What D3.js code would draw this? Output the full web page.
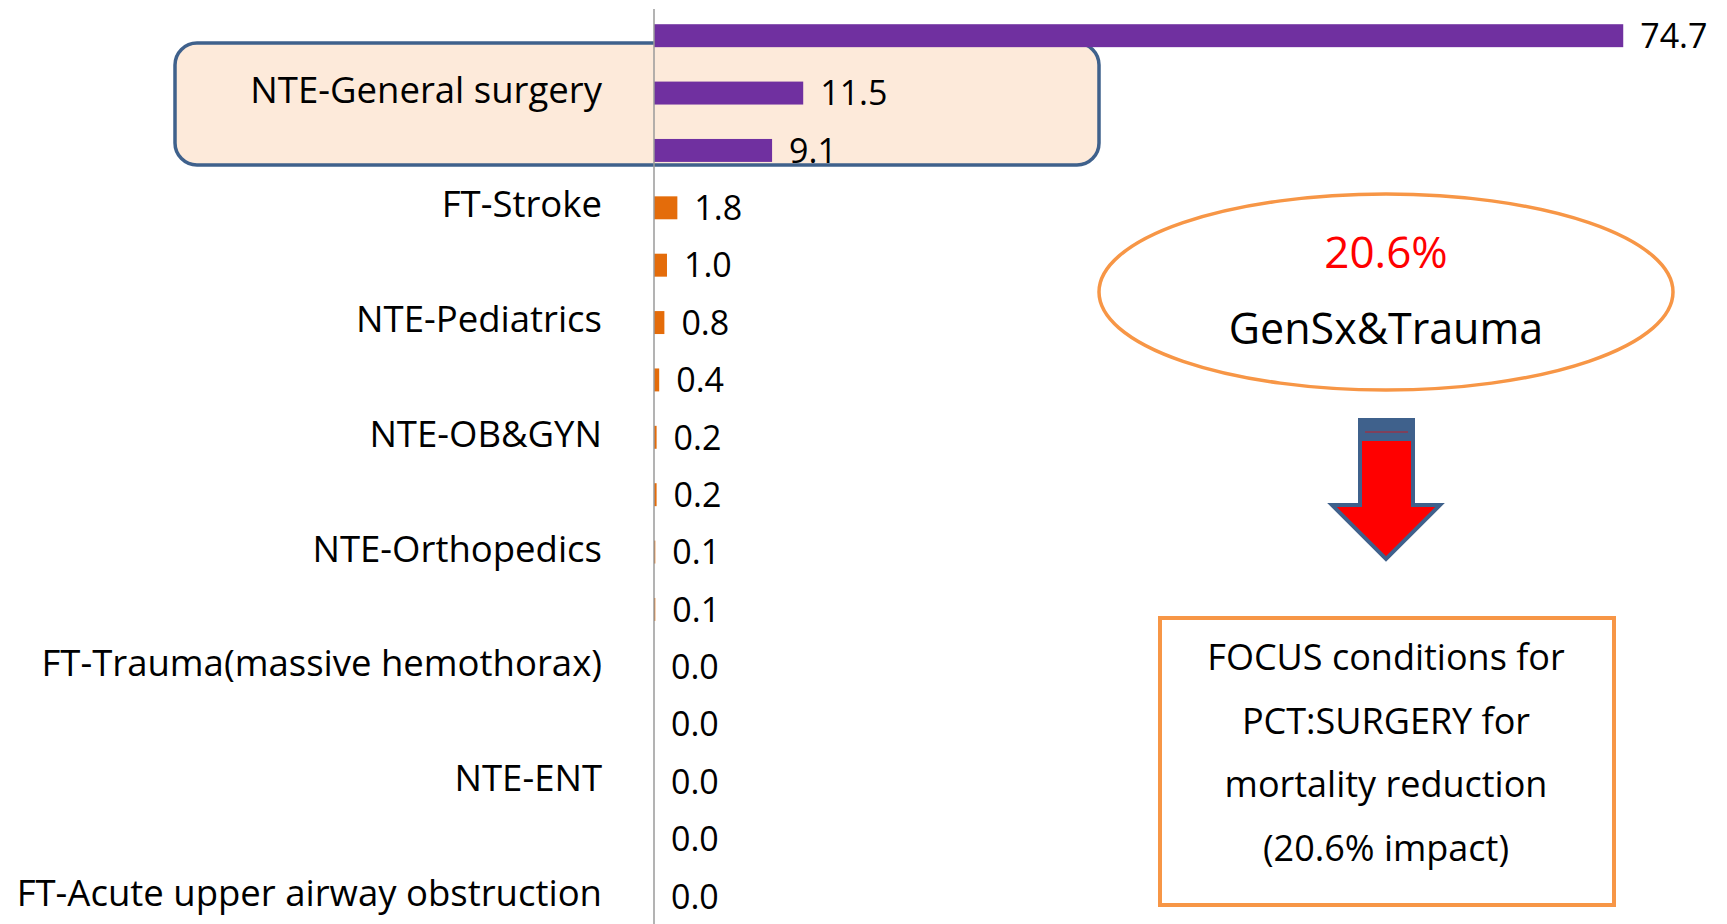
<!DOCTYPE html>
<html>
<head>
<meta charset="utf-8">
<script src="https://cdn.jsdelivr.net/npm/d3@7"></script>
<style>
  html, body { margin: 0; padding: 0; background: #fff; }
  svg { display: block; }
</style>
</head>
<body>
<svg id="chart" width="1727" height="924"></svg>
<script>
// Mortality impact by condition (%), sorted descending
const rowIds = ["r01","r02","r03","r04","r05","r06","r07","r08","r09","r10","r11","r12","r13","r14","r15","r16"];
const tickLabels = ["", "NTE-General surgery", "", "FT-Stroke", "", "NTE-Pediatrics", "", "NTE-OB&GYN", "",
                    "NTE-Orthopedics", "", "FT-Trauma(massive hemothorax)", "", "NTE-ENT", "", "FT-Acute upper airway obstruction"];
const values = [74.7, 11.5, 9.1, 1.8, 1.0, 0.8, 0.4, 0.2, 0.2, 0.1, 0.1, 0.0, 0.0, 0.0, 0.0, 0.0];
const barGroup = ["focus","focus","focus","other","other","other","other","other","other","other","other","other","other","other","other","other"];
const groupColors = { focus: "#7030A0", other: "#E46C0A" };
const focusShare = "20.6%";
const focusName = "GenSx&Trauma";
const noteLines = ["FOCUS conditions for", "PCT:SURGERY for", "mortality reduction", "(20.6% impact)"];

const svg = d3.select("#chart");
const labelFont = "'Open Sans', sans-serif";

const y = d3.scaleBand().domain(rowIds).range([7, 925]).paddingInner(0.6).paddingOuter(0.3);
const x = d3.scaleLinear().domain([0, 80]).range([654, 1692]);

// highlight box behind the general-surgery rows
const hl = svg.append("g");
hl.append("rect")
  .attr("x", 175).attr("y", 43).attr("width", 924).attr("height", 122)
  .attr("rx", 22).attr("ry", 22)
  .attr("fill", "#FDEADA").attr("stroke", "#3F618C").attr("stroke-width", 3.5);

// bars
svg.append("g").selectAll("rect").data(values).join("rect")
  .attr("x", x(0))
  .attr("y", (d, i) => y(rowIds[i]))
  .attr("width", d => x(d) - x(0))
  .attr("height", y.bandwidth())
  .attr("fill", (d, i) => groupColors[barGroup[i]]);

// category axis
const axis = svg.append("g")
  .attr("transform", `translate(${x(0)},0)`)
  .call(d3.axisLeft(y).tickSize(0).tickPadding(52).tickFormat((d, i) => tickLabels[i]));
axis.select(".domain").attr("stroke", "#9A9A9A").attr("stroke-width", 1.5)
  .attr("d", `M0,9V924`);
axis.selectAll("text")
  .attr("font-family", labelFont).attr("font-size", 36.5).attr("fill", "#000")
  .attr("dy", "0.26em");

// value labels
svg.append("g").selectAll("text").data(values).join("text")
  .attr("x", d => x(d) + 17)
  .attr("y", (d, i) => y(rowIds[i]) + y.bandwidth() / 2)
  .attr("dy", "0.36em")
  .attr("font-family", labelFont).attr("font-size", 34).attr("fill", "#000")
  .text(d => d3.format(".1f")(d));

// callout ellipse
const cx = 1386;
svg.append("ellipse")
  .attr("cx", cx).attr("cy", 292).attr("rx", 287).attr("ry", 98)
  .attr("fill", "none").attr("stroke", "#F79646").attr("stroke-width", 3.5);
svg.append("text").attr("x", cx).attr("y", 268).attr("text-anchor", "middle")
  .attr("font-family", labelFont).attr("font-size", 44).attr("fill", "#FF0000").text(focusShare);
svg.append("text").attr("x", cx).attr("y", 344).attr("text-anchor", "middle")
  .attr("font-family", labelFont).attr("font-size", 43).attr("fill", "#000").text(focusName);

// down arrow
const arrow = svg.append("g");
const sx0 = 1360, sx1 = 1413, shaftTop = 420, headY = 505, hx0 = 1332, hx1 = 1440, tipY = 559;
arrow.append("path")
  .attr("d", `M${sx0},${shaftTop}H${sx1}V${headY}H${hx1}L${cx},${tipY}L${hx0},${headY}H${sx0}Z`)
  .attr("fill", "#FF0000").attr("stroke", "#3F618C").attr("stroke-width", 4).attr("stroke-linejoin", "miter");
arrow.append("rect").attr("x", sx0).attr("y", shaftTop).attr("width", sx1 - sx0).attr("height", 21)
  .attr("fill", "#3F618C");
arrow.append("line").attr("x1", sx0 + 5).attr("x2", sx1 - 5).attr("y1", shaftTop + 12).attr("y2", shaftTop + 12)
  .attr("stroke", "#C0202A").attr("stroke-width", 1);

// note box
svg.append("rect")
  .attr("x", 1160).attr("y", 618).attr("width", 454).attr("height", 287)
  .attr("fill", "#fff").attr("stroke", "#F79646").attr("stroke-width", 4);
svg.append("g").selectAll("text").data(noteLines).join("text")
  .attr("x", cx).attr("y", (d, i) => 670 + i * 63.5)
  .attr("text-anchor", "middle")
  .attr("font-family", labelFont).attr("font-size", 36).attr("fill", "#000")
  .text(d => d);
</script>
</body>
</html>
